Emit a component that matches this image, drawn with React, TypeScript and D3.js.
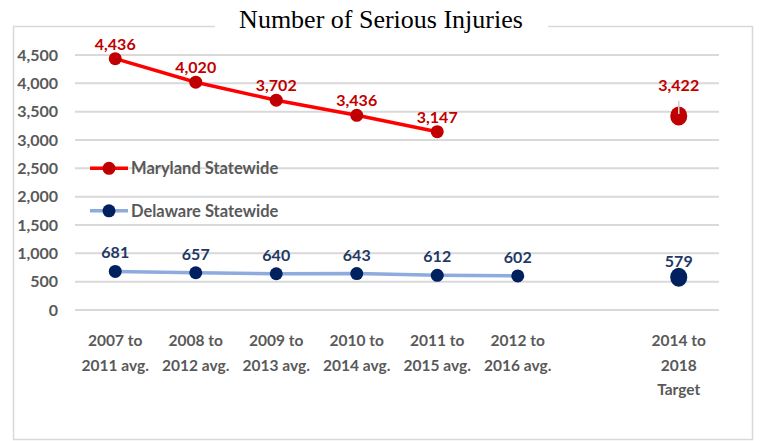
import React from "react";
import * as d3 from "d3";

const WIDTH = 760;
const HEIGHT = 441;
const MARGIN = { top: 55, right: 41, bottom: 131, left: 75 };

const categories = [
  ["2007 to", "2011 avg."],
  ["2008 to", "2012 avg."],
  ["2009 to", "2013 avg."],
  ["2010 to", "2014 avg."],
  ["2011 to", "2015 avg."],
  ["2012 to", "2016 avg."],
  [],
  ["2014 to", "2018", "Target"],
];
const marylandValues = [4436, 4020, 3702, 3436, 3147, null, null, 3422];
const delawareValues = [681, 657, 640, 643, 612, 602, null, 579];
const yTicks = [0, 500, 1000, 1500, 2000, 2500, 3000, 3500, 4000, 4500];
const TARGET_INDEX = 7;

const FONT = "Lato, 'Open Sans', sans-serif";
const GRAY = "#595959";

export default function App() {
  const boundsWidth = WIDTH - MARGIN.left - MARGIN.right;
  const boundsHeight = HEIGHT - MARGIN.top - MARGIN.bottom;

  const xScale = d3
    .scaleBand<number>()
    .domain(d3.range(categories.length))
    .range([0, boundsWidth]);
  const xc = (i: number) => (xScale(i) as number) + xScale.bandwidth() / 2;

  const yScale = d3.scaleLinear().domain([0, 4500]).range([boundsHeight, 0]);

  const fmt = d3.format(",");

  // the line only joins the averages, not the target
  const line = d3
    .line<number | null>()
    .defined((d, i) => d !== null && i !== TARGET_INDEX)
    .x((_, i) => xc(i))
    .y((d) => yScale(d as number));

  const series = [
    {
      name: "Maryland Statewide",
      values: marylandValues,
      lineColor: "#ff0000",
      dotColor: "#c00000",
      labelColor: "#c00000",
    },
    {
      name: "Delaware Statewide",
      values: delawareValues,
      lineColor: "#8faadc",
      dotColor: "#002060",
      labelColor: "#1f3864",
    },
  ];

  return (
    <svg
      width={WIDTH}
      height={HEIGHT}
      style={{ position: "absolute", left: 0, top: 0, background: "#fff" }}
    >
      {/* frame */}
      <rect x={13.5} y={26.5} width={739} height={413} fill="#fff" stroke="#d9d9d9" strokeWidth={1.5} />
      <rect x={215} y={18} width={333} height={14} fill="#fff" />
      <text
        x={381}
        y={28}
        textAnchor="middle"
        fontFamily="'Liberation Serif', 'Times New Roman', serif"
        fontSize={26}
        fill="#000"
      >
        Number of Serious Injuries
      </text>

      <g transform={`translate(${MARGIN.left},${MARGIN.top})`}>
        {yTicks.map((t) => (
          <g key={t}>
            <line
              x1={0}
              x2={boundsWidth}
              y1={yScale(t)}
              y2={yScale(t)}
              stroke="#d9d9d9"
              strokeWidth={2}
            />
            <text
              x={-17}
              y={yScale(t)}
              dy="0.36em"
              textAnchor="end"
              fontFamily={FONT}
              fontWeight={700}
              fontSize={16}
              fill={GRAY}
            >
              {fmt(t)}
            </text>
          </g>
        ))}

        {categories.map((lines, i) => (
          <text
            key={i}
            x={xc(i)}
            y={boundsHeight + 36}
            textAnchor="middle"
            fontFamily={FONT}
            fontWeight={700}
            fontSize={15.5}
            fill={GRAY}
          >
            {lines.map((l, j) => (
              <tspan key={j} x={xc(i)} dy={j === 0 ? 0 : 24.5}>
                {l}
              </tspan>
            ))}
          </text>
        ))}

        {series.map((s, si) => (
          <g key={s.name}>
            <path
              d={line(s.values) ?? ""}
              fill="none"
              stroke={s.lineColor}
              strokeWidth={3.5}
            />
            {s.values.map((v, i) =>
              v === null ? null : (
                <g key={i}>
                  {i === TARGET_INDEX ? (
                    <ellipse cx={xc(i)} cy={yScale(v)} rx={8.5} ry={9.5} fill={s.dotColor} />
                  ) : (
                    <circle cx={xc(i)} cy={yScale(v)} r={6.5} fill={s.dotColor} />
                  )}
                  {i === TARGET_INDEX && si === 0 && (
                    <line
                      x1={xc(i)}
                      x2={xc(i)}
                      y1={yScale(v) - 15}
                      y2={yScale(v) - 2}
                      stroke="#d0d0d0"
                      strokeWidth={1.5}
                    />
                  )}
                  <text
                    x={xc(i)}
                    y={
                      yScale(v) -
                      (i === TARGET_INDEX ? (si === 0 ? 25 : 10) : si === 0 ? 9 : 13)
                    }
                    textAnchor="middle"
                    fontFamily={FONT}
                    fontWeight={700}
                    fontSize={16}
                    fill={s.labelColor}
                  >
                    {fmt(v)}
                  </text>
                </g>
              )
            )}
          </g>
        ))}

        {/* legend */}
        {series.map((s, si) => {
          const ly = yScale(si === 0 ? 2500 : 1750);
          return (
            <g key={s.name} transform={`translate(15,${ly})`}>
              <line x1={0} x2={38} y1={0} y2={0} stroke={s.lineColor} strokeWidth={3.5} />
              <circle cx={19} cy={0} r={6.5} fill={s.dotColor} />
              <text
                x={41}
                y={0}
                dy="0.36em"
                fontFamily={FONT}
                fontWeight={700}
                fontSize={16.5}
                fill={GRAY}
              >
                {s.name}
              </text>
            </g>
          );
        })}
      </g>
    </svg>
  );
}
